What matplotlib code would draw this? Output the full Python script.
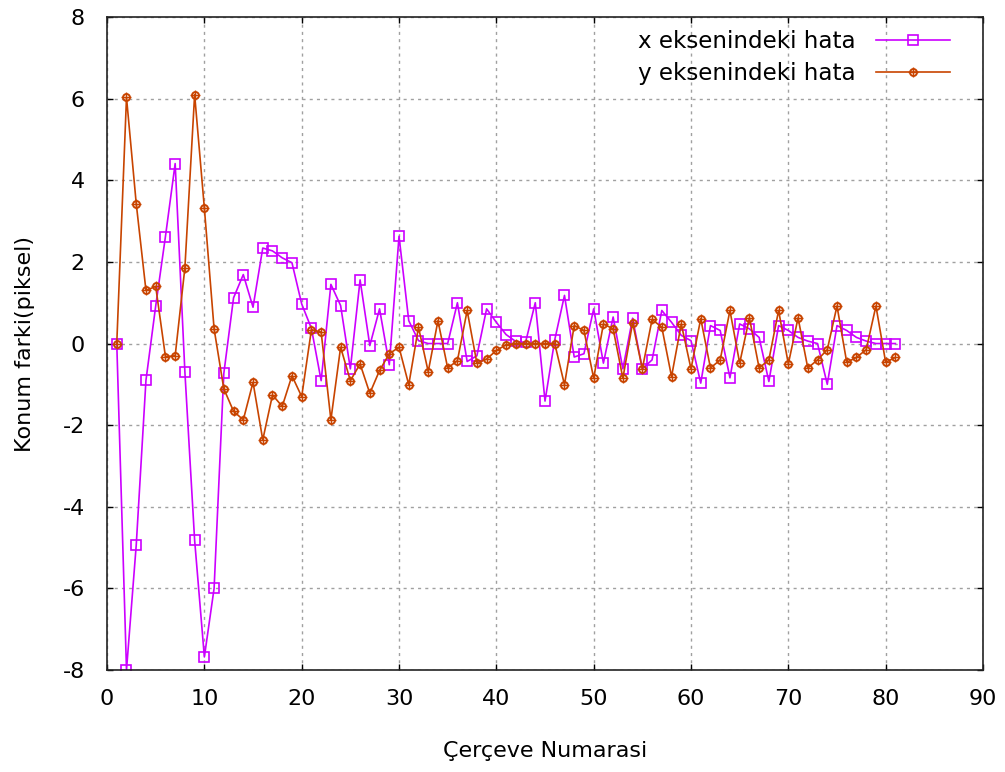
import matplotlib
matplotlib.use("Agg")
import matplotlib.pyplot as plt
from matplotlib.legend_handler import HandlerTuple

frames = list(range(1, 82))

x_error = [0, -8.0, -4.94, -0.9, 0.92, 2.62, 4.41, -0.7, -4.82, -7.68,
           -6.0, -0.73, 1.12, 1.69, 0.89, 2.34, 2.27, 2.1, 1.98, 0.97,
           0.37, -0.91, 1.45, 0.93, -0.62, 1.56, -0.05, 0.85, -0.52, 2.63,
           0.56, 0.07, 0.0, 0.0, 0.0, 1.0, -0.44, -0.3, 0.85, 0.52,
           0.22, 0.05, 0.03, 1.0, -1.41, 0.09, 1.18, -0.33, -0.25, 0.85,
           -0.48, 0.65, -0.62, 0.62, -0.62, -0.4, 0.81, 0.52, 0.2, 0.07,
           -0.97, 0.44, 0.32, -0.84, 0.48, 0.36, 0.15, -0.93, 0.44, 0.32,
           0.15, 0.06, 0.0, -1.0, 0.44, 0.32, 0.15, 0.06, 0.0, 0.0,
           0.0]

y_error = [0, 6.03, 3.43, 1.3, 1.4, -0.32, -0.3, 1.86, 6.1, 3.32,
           0.36, -1.11, -1.66, -1.87, -0.95, -2.36, -1.26, -1.54, -0.79, -1.3,
           0.34, 0.28, -1.87, -0.09, -0.91, -0.5, -1.22, -0.66, -0.25, -0.09,
           -1.01, 0.4, -0.69, 0.56, -0.6, -0.42, 0.81, -0.48, -0.38, -0.17,
           -0.03, 0.0, 0.0, 0.0, 0.0, 0.0, -1.01, 0.44, 0.32, -0.85,
           0.48, 0.36, -0.85, 0.51, -0.62, 0.59, 0.4, -0.81, 0.48, -0.62,
           0.61, -0.6, -0.4, 0.81, -0.48, 0.63, -0.6, -0.4, 0.81, -0.5,
           0.63, -0.6, -0.4, -0.15, 0.92, -0.46, -0.34, -0.15, 0.92, -0.46,
           -0.34]

x_ticks = [0, 10, 20, 30, 40, 50, 60, 70, 80, 90]
y_ticks = [-8, -6, -4, -2, 0, 2, 4, 6, 8]

plt.rcParams['font.family'] = ['DejaVu Sans']
plt.rcParams['axes.unicode_minus'] = False

FS = 16

fig = plt.figure(figsize=(10.05, 7.72), dpi=100)
ax = fig.add_axes([0.1065, 0.1321, 0.8716, 0.8458])

mag = '#cc00ff'
org = '#c84400'

l1, = ax.plot(frames, x_error, color=mag, lw=1.2, marker='s', ms=7.5,
              mfc='none', mec=mag, mew=1.2)
l2, = ax.plot(frames, y_error, color=org, lw=1.2, marker='o', ms=5,
              mfc='none', mec=org, mew=1.4)
l3, = ax.plot(frames, y_error, color=org, lw=0, marker='+', ms=7.5, mew=1.0)

ax.set_xlim(0, 90)
ax.set_ylim(-8, 8)
ax.set_xticks(x_ticks)
ax.set_yticks(y_ticks)
ax.tick_params(direction='in', length=4.5, width=1.0, labelsize=FS,
               top=True, right=True)
ax.tick_params(axis='x', pad=14)
ax.tick_params(axis='y', pad=16)
for s in ax.spines.values():
    s.set_linewidth(1.2)
    s.set_color('#222222')
ax.grid(True, color='#a0a0a0', linestyle=(0, (2.2, 3.0)), linewidth=1.0)

ax.set_xlabel('Çerçeve Numarasi', fontsize=FS, labelpad=23)
ax.set_ylabel('Konum farki(piksel)', fontsize=FS, labelpad=20)

ax.legend([l1, (l2, l3)], ['x eksenindeki hata', 'y eksenindeki hata'],
          handler_map={tuple: HandlerTuple(ndivide=1)},
          loc='upper right', bbox_to_anchor=(0.982, 1.007),
          frameon=False, markerfirst=False,
          prop={'size': 16.6}, handlelength=3.2, handletextpad=0.9,
          borderaxespad=0.35, labelspacing=0.42)

fig.savefig('out.png', dpi=100)
